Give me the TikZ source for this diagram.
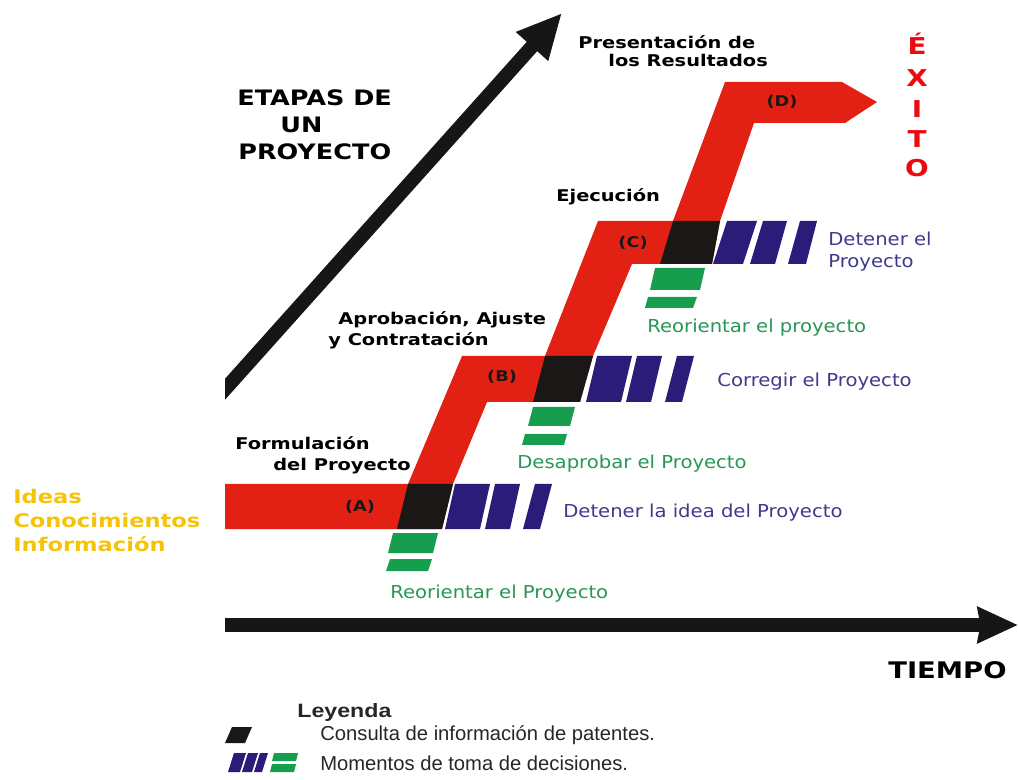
\documentclass[tikz,border=0pt]{standalone}
\usepackage{fontspec}
\usetikzlibrary{arrows.meta}
\newfontfamily\vbfont{DejaVu Sans}[FakeStretch=1.2]
\newfontfamily\vrfont{DejaVu Sans}[FakeStretch=1.1]
\newfontfamily\arfont{Liberation Sans}
\newfontfamily\arwfont{Liberation Sans}[FakeStretch=1.2]
\definecolor{bandred}{RGB}{226,32,20}
\definecolor{blackq}{RGB}{26,24,22}
\definecolor{bluebar}{RGB}{44,28,122}
\definecolor{greenbar}{RGB}{22,158,78}
\definecolor{bluetext}{RGB}{62,58,140}
\definecolor{greentext}{RGB}{40,150,85}
\definecolor{ideasyellow}{RGB}{245,196,10}
\definecolor{exitored}{RGB}{235,10,15}
\definecolor{axis}{RGB}{22,22,22}
\tikzset{
  bigb/.style={font={\vbfont\bfseries\fontsize{12.1}{14}\selectfont}, text=black, inner sep=0pt, anchor=base west},
  stage/.style={font={\vbfont\bfseries\fontsize{9.2}{11}\selectfont}, text=black, inner sep=0pt, anchor=base west},
  ideas/.style={font={\vbfont\bfseries\fontsize{10.7}{13}\selectfont}, text=ideasyellow, inner sep=0pt, anchor=base west},
  letter/.style={font={\vbfont\bfseries\fontsize{8.4}{10}\selectfont}, text=blackq, inner sep=0pt},
  exito/.style={font={\vbfont\bfseries\fontsize{13.2}{15}\selectfont}, text=exitored, inner sep=0pt, anchor=base},
  bluelabel/.style={font={\vrfont\fontsize{10.15}{12}\selectfont}, text=bluetext, inner sep=0pt, anchor=base west},
  greenlabel/.style={font={\vrfont\fontsize{10.15}{12}\selectfont}, text=greentext, inner sep=0pt, anchor=base west},
  legendtext/.style={font={\arfont\fontsize{11.5}{14}\selectfont}, text=black!85, inner sep=0pt, anchor=base west},
  legendtitle/.style={font={\arwfont\bfseries\fontsize{11}{13}\selectfont}, text=black!85, inner sep=0pt, anchor=base west},
  axisarrow/.style={line width=0.28cm, draw=axis},
  patent/.style={fill=blackq},
  decide/.style={fill=bluebar},
  reorient/.style={fill=greenbar}
}
\begin{document}
\begin{tikzpicture}[x=0.02cm,y=-0.02cm]
\useasboundingbox (0,0) rectangle (1018,780);

% ---- axes ----
\begin{scope}
  \clip (225,0) rectangle (1018,780);
  \coordinate (ytail) at (210,406);
  \coordinate (ytip) at (562,13);
  \draw[axisarrow, -{Triangle[length=0.9cm,width=0.8cm]}] (ytail) -- (ytip);
\end{scope}
\coordinate (xtail) at (225,625);
\coordinate (xtip) at (1018,625);
\draw[axisarrow, -{Stealth[length=0.8cm,width=0.7cm,inset=0.05cm]}] (xtail) -- (xtip);

% ---- red stage band ----
\fill[bandred] (225,484) -- (408,484) -- (462,356) -- (545,356) -- (598,221) -- (673,221)
  -- (725,82) -- (842,82) -- (877,102) -- (845,123) -- (754,123) -- (720,221) -- (712,264)
  -- (632,264) -- (593,356) -- (580,402) -- (487,402) -- (453,484) -- (442,529) -- (225,529) -- cycle;

% ---- patent consultation squares ----
\fill[patent] (408,484) -- (453,484) -- (442,529) -- (397,529) -- cycle;
\fill[patent] (545,356) -- (593,356) -- (580,402) -- (533,402) -- cycle;
\fill[patent] (673,221) -- (720,221) -- (712,264) -- (660,264) -- cycle;

% ---- decision bars (blue) ----
\fill[decide] (455,484) -- (490,484) -- (480,529) -- (445,529) -- cycle;
\fill[decide] (495,484) -- (520,484) -- (510,529) -- (485,529) -- cycle;
\fill[decide] (535,484) -- (552,484) -- (540,529) -- (523,529) -- cycle;

\fill[decide] (597,356) -- (632,356) -- (621,402) -- (586,402) -- cycle;
\fill[decide] (637,356) -- (662,356) -- (651,402) -- (626,402) -- cycle;
\fill[decide] (677,356) -- (694,356) -- (682,402) -- (665,402) -- cycle;

\fill[decide] (727,221) -- (757,221) -- (743,264) -- (713,264) -- cycle;
\fill[decide] (763,221) -- (787,221) -- (775,264) -- (750,264) -- cycle;
\fill[decide] (800,221) -- (817,221) -- (806,264) -- (788,264) -- cycle;

% ---- decision bars (green) ----
\fill[reorient] (393,533) -- (438,533) -- (433,553) -- (388,553) -- cycle;
\fill[reorient] (390,559) -- (432,559) -- (428,571) -- (386,571) -- cycle;
\fill[reorient] (533,407) -- (575,407) -- (570,426) -- (528,426) -- cycle;
\fill[reorient] (525,434) -- (567,434) -- (564,445) -- (522,445) -- cycle;
\fill[reorient] (655,268) -- (705,268) -- (700,290) -- (650,290) -- cycle;
\fill[reorient] (648,297) -- (697,297) -- (693,308) -- (645,308) -- cycle;

% ---- stage letters ----
\node[letter] (la) at (360,507) {(A)};
\node[letter] (lb) at (502,377) {(B)};
\node[letter] (lc) at (633,243) {(C)};
\node[letter] (ld) at (782,102) {(D)};

% ---- titles ----
\node[bigb] (etapas1) at (237,106) {ETAPAS DE};
\node[bigb] (etapas2) at (280,133) {UN};
\node[bigb] (etapas3) at (238,160) {PROYECTO};
\node[bigb, font={\vbfont\bfseries\fontsize{13}{15}\selectfont}] (tiempo) at (888,678) {TIEMPO};

\node[exito] (ex1) at (917,55) {É};
\node[exito] (ex2) at (917,87) {X};
\node[exito] (ex3) at (917,118) {I};
\node[exito] (ex4) at (917,148) {T};
\node[exito] (ex5) at (917,177) {O};

% ---- stage names ----
\node[stage] (pres1) at (578,49) {Presentación de};
\node[stage] (pres2) at (608,67) {los Resultados};
\node[stage] (ejec) at (556,202) {Ejecución};
\node[stage] (apro1) at (338,325) {Aprobación, Ajuste};
\node[stage] (apro2) at (328,346) {y Contratación};
\node[stage] (form1) at (235,450) {Formulación};
\node[stage] (form2) at (273,471) {del Proyecto};

\node[ideas] (ideas1) at (13,503) {Ideas};
\node[ideas] (ideas2) at (13,527) {Conocimientos};
\node[ideas] (ideas3) at (13,551) {Información};

% ---- decision labels ----
\node[bluelabel] (detA) at (563,518) {Detener la idea del Proyecto};
\node[greenlabel] (reoA) at (390,598) {Reorientar el Proyecto};
\node[greenlabel] (desB) at (517,469) {Desaprobar el Proyecto};
\node[bluelabel] (corB) at (717,387) {Corregir el Proyecto};
\node[greenlabel] (reoC) at (647,333) {Reorientar el proyecto};
\node[bluelabel] (detC1) at (828,246) {Detener el};
\node[bluelabel] (detC2) at (828,268) {Proyecto};

% ---- legend ----
\node[legendtitle] (ley) at (297,717) {Leyenda};
\fill[patent] (232,727) -- (252,727) -- (245,743) -- (225,743) -- cycle;
\fill[decide] (234,753) -- (246,753) -- (240,772) -- (228,772) -- cycle;
\fill[decide] (248,753) -- (258,753) -- (252,772) -- (242,772) -- cycle;
\fill[decide] (260,753) -- (268,753) -- (262,772) -- (254,772) -- cycle;
\fill[reorient] (274,753) -- (298,753) -- (296,761) -- (272,761) -- cycle;
\fill[reorient] (272,764) -- (296,764) -- (294,772) -- (270,772) -- cycle;
\node[legendtext] (ley1) at (320,740) {Consulta de información de patentes.};
\node[legendtext] (ley2) at (320,770) {Momentos de toma de decisiones.};
\end{tikzpicture}
\end{document}
